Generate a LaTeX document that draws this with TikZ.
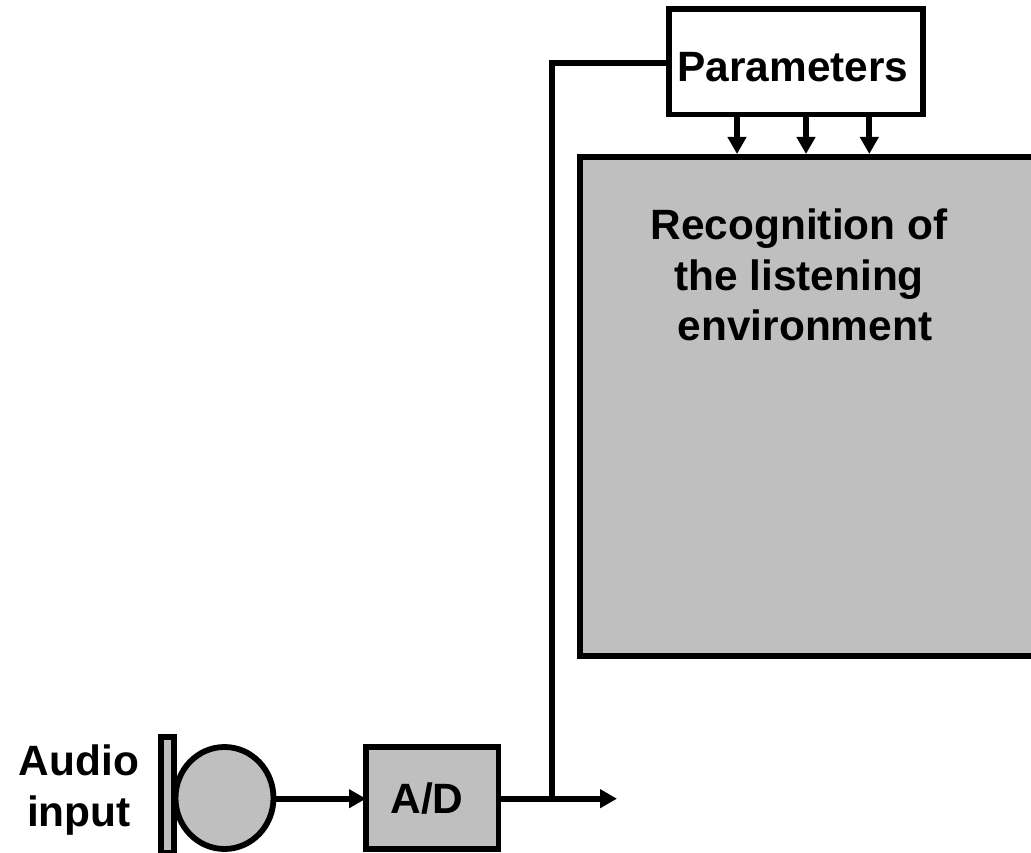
\documentclass[tikz,border=0pt]{standalone}
\usepackage{fontspec}
\setmainfont{Liberation Sans}
\usetikzlibrary{arrows.meta,shapes.geometric}
\tikzset{
  x=1pt,y=-1pt,
  blk/.style={draw=black,line width=5.8pt,inner sep=0pt,outer sep=0pt,anchor=north west},
  gry/.style={blk,fill=black!25},
  wire/.style={draw=black,line width=5.8pt},
  arr/.style={wire,-{Triangle[length=17pt,width=18pt]}},
  lbl/.style={font=\fontsize{42.4}{50.5}\selectfont\bfseries,inner sep=0pt,align=center},
}
\begin{document}
\begin{tikzpicture}
\useasboundingbox (0,0) rectangle (1031,853);
\node[blk,fill=white,minimum width=254.2pt,minimum height=105.5pt] (par) at (668.8,9) {};
\node[gry,minimum width=455pt,minimum height=499.6pt] (rec) at (580,156.7) {};
\node[gry,minimum width=132.5pt,minimum height=102pt] (ad) at (366,747) {};
\node[draw=black,fill=black!25,line width=5.8pt,ellipse,inner sep=0pt,outer sep=0pt,minimum width=98pt,minimum height=102pt] (mic) at (224.5,798) {};
\node[gry,minimum width=13pt,minimum height=116pt] (plate) at (161,737) {};
\node[lbl] (tpar) at (793,67.5) {Parameters};
\node[lbl] (trec) at (799,275) {Recognition of\\the listening\\\hspace*{12pt}environment};
\node[lbl] (tad) at (427,799) {A/D};
\node[lbl,font=\fontsize{42.4}{51}\selectfont\bfseries] (taudio) at (79,790.5) {Audio\\input};
\coordinate (j) at (552.3,798.7);
\coordinate (out) at (617,798.7);
\coordinate (corner) at (552.3,63);
\draw[arr] (mic.east |- j) -- (ad.west |- j);
\draw[wire] (ad.east |- j) -- (j);
\draw[arr] (j) -- (out);
\draw[wire,line cap=butt] (j) -- (corner) -- (par.west |- corner);
\foreach \n/\x in {a/737,b/806,c/869.3}{
  \coordinate (s\n) at (\x,114.5);
  \coordinate (e\n) at (\x,154);
  \draw[arr] (s\n) -- (e\n);
}
\end{tikzpicture}
\end{document}
